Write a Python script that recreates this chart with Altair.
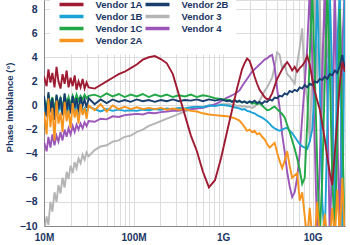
import altair as alt
import pandas as pd

# Frequencies in MHz
F_LOW = [10.0, 10.7, 11.2, 11.8, 12.4, 13.1, 13.8, 14.5, 15.3, 16.1, 17.0, 17.9,
         18.8, 19.8, 20.9, 22.0, 23.1, 24.3, 25.6, 27.0, 28.4, 29.9, 31.5]
F_MID = [36.8, 42.9, 50.1, 58.5, 68.3, 79.7, 93.0, 108.6, 126.8, 148, 172.8, 201.7,
         235.4, 274.8, 320.7, 374.4, 437.1, 510.2, 595.6, 695.2, 811.5, 947.3, 1106]
F_HIGH = [1195, 1258, 1342, 1431, 1526, 1628, 1736, 1852, 1975, 2107, 2247, 2397,
          2556, 2727, 2908, 3102, 3308, 3529, 3764, 4015, 4282, 4567, 4872, 5196,
          5542, 5912, 6305, 6726, 7174, 7652, 8162, 8706, 9286, 9904, 10560, 11260,
          12010, 12810, 13670, 14580, 15550, 16580, 17690, 18870, 20120, 21460, 22890]
FREQ = F_LOW + F_MID + F_HIGH

V1A = ([2.4, 1.6, 3.0, 1.9, 2.7, 1.5, 3.2, 2.0, 1.4, 2.6, 1.8, 2.9, 1.5, 2.3, 1.6, 2.5,
        1.3, 2.0, 1.5, 2.2, 1.4, 1.9, 1.5]
       + [1.4, 1.7, 2.0, 2.3, 2.6, 2.8, 3.1, 3.4, 3.8, 4.0, 4.1, 3.85, 3.5, 2.6, 0.9,
          -0.8, -2.5, -3.8, -5.5, -6.8, -6.2, -4.4, -2.2]
       + [-1.1, -0.4, 0.5, 1.4, 2.2, 3.0, 3.5, 3.9, 3.7, 3.1, 2.4, 1.8, 1.3, 1.0, 0.7,
          0.5, 0.6, 1.0, 1.6, 2.2, 2.6, 3.0, 3.3, 3.6, 3.3, 2.9, 3.2, 2.8, 3.1, 3.3,
          3.6, 4.1, 3.4, 2.2, 1.2, 0.4, -0.3, -1.5, -2.8, -4.3, -5.6, -6.6, -4.0,
          -1.2, 1.8, 3.6, 2.8])
V1B = ([-0.2, -0.9, 0.3, -0.6, 0.1, -1.0, 0.2, -0.5, 0.0, -0.8, 0.2, -0.6, -0.1, -0.7,
        0.1, -0.5, -0.1, -0.6, 0.0, -0.4, -0.2, -0.5, -0.1]
       + [-0.3, -0.5, -0.3, -0.45, -0.35, -0.45, -0.4, -0.45, -0.35, -0.4, -0.3, -0.35,
          -0.25, -0.3, -0.2, -0.25, -0.15, -0.1, -0.15, 0.0, -0.05, 0.05, 0.0]
       + [-0.05, -0.1, -0.15, -0.2, -0.25, -0.35, -0.3, -0.45, -0.5, -0.6, -0.65, -0.8,
          -0.9, -1.0, -1.15, -1.3, -1.5, -1.75, -1.9, -2.0, -2.1, -2.0, -1.9, -1.85,
          -2.1, -2.3, -2.6, -2.9, -3.2, -3.4, -3.5, -3.6, -3.0, -2.0, 1.5, 9.5, 2.0,
          -8.0, -11, -2.0, 9.5, 2.0, -9.0, 5.0, 9.5, -11, 9.5])
V1C = ([0.6, -0.3, 0.9, 0.0, 0.7, -0.4, 0.8, 0.1, 0.6, -0.2, 0.9, 0.2, 0.7, 0.0, 0.8,
        0.3, 0.9, 0.4, 0.8, 0.5, 0.9, 0.6, 0.8]
       + [0.9, 0.7, 1.0, 0.75, 0.95, 0.7, 0.9, 0.75, 0.95, 0.7, 0.9, 0.75, 0.9, 0.7,
          0.85, 0.75, 0.9, 0.7, 0.85, 0.75, 0.6, 0.55, 0.45]
       + [0.45, 0.3, 0.4, 0.3, 0.35, 0.25, 0.3, 0.2, 0.3, 0.15, 0.2, 0.1, 0.2, 0.0,
          -0.2, -0.4, -0.35, -0.2, -0.1, -0.3, -0.5, -0.7, -1.0, -1.6, -2.2, -2.9,
          -3.6, -4.4, -5.3, -6.5, -6.0, -1.5, 4.0, 9.5, 3.0, -5.0, -11, -6.0, 2.0, 9.5,
          3.0, -6.0, -11, -3.0, 8.0, -2.0, -11])
V2A = ([-0.5, -2.4, 0.6, -1.8, -0.2, -2.9, 0.4, -1.5, -0.6, -2.2, 0.3, -1.3, -0.4,
        -1.9, 0.2, -1.0, -0.3, -1.5, 0.1, -0.8, -0.2, -1.1, 0.0]
       + [-0.4, 0.1, -0.5, 0.0, -0.3, -0.1, -0.3, -0.15, -0.3, -0.2, -0.3, -0.2, -0.35,
          -0.25, -0.35, -0.3, -0.45, -0.5, -0.65, -0.75, -0.8, -0.85, -0.9]
       + [-0.95, -1.0, -1.05, -1.15, -1.25, -1.5, -1.8, -2.1, -2.0, -2.2, -2.1, -2.4,
          -2.3, -2.6, -2.8, -3.2, -3.5, -3.3, -3.1, -3.9, -4.6, -5.2, -4.6, -3.8, -5.0,
          -6.0, -5.8, -5.6, -7.9, -7.2, -9.2, -11, -8.5, -11, -11, -8.0, -11, -11,
          -9.0, -11, -11, -8.5, -11, -7.0, -11, -6.0, -11])
V2B = ([0.8, -0.9, 1.1, -0.5, 0.6, -1.2, 0.9, -0.3, 0.7, -0.8, 1.0, -0.4, 0.5, -0.6,
        0.8, -0.2, 0.6, -0.5, 0.7, 0.0, 0.5, -0.2, 0.6]
       + [0.1, 0.5, 0.2, 0.5, 0.3, 0.45, 0.3, 0.5, 0.35, 0.45, 0.3, 0.45, 0.35, 0.5,
          0.35, 0.45, 0.4, 0.5, 0.35, 0.5, 0.4, 0.5, 0.35]
       + [0.4, 0.3, 0.45, 0.3, 0.4, 0.25, 0.35, 0.2, 0.35, 0.25, 0.4, 0.2, 0.3, 0.15,
          0.35, 0.3, 0.5, 0.4, 0.65, 0.6, 0.8, 0.75, 1.0, 0.9, 1.2, 1.1, 1.3, 1.2, 1.5,
          1.4, 1.7, 1.5, 1.8, 1.7, 2.0, 1.9, 2.2, 2.1, 2.4, 2.2, 2.6, 2.5, 2.9, 2.7,
          3.3, 4.2, 3.0])
V3 = ([-10.5, -9.2, -9.9, -8.0, -8.8, -7.2, -8.0, -6.6, -7.3, -6.0, -6.8, -5.5, -6.1,
       -5.0, -5.6, -4.7, -5.2, -4.4, -4.8, -4.1, -4.5, -3.9, -4.2]
      + [-3.7, -3.4, -3.3, -3.0, -2.9, -2.6, -2.5, -2.2, -2.0, -1.7, -1.5, -1.3, -1.1,
         -0.9, -0.7, -0.5, -0.35, -0.2, -0.1, 0.0, 0.05, 0.1, 0.1]
      + [0.1, 0.0, 0.05, -0.05, 0.0, -0.1, -0.05, -0.15, -0.1, -0.2, -0.1, 0.1, 0.4,
         0.8, 1.2, 1.5, 1.9, 2.3, 3.2, 4.4, 4.2, 3.1, 3.4, 2.6, 2.4, 2.1, 1.8, 3.5, 4.8,
         6.4, 2.0, 0.5, -3.0, 3.0, 9.5, 2.0, 9.5, -2.0, 9.5, 4.0, 9.5, -1.0, 9.5, 3.0,
         9.5, 0.0, 9.5])
V4 = ([-3.0, -3.8, -2.6, -3.5, -2.4, -3.3, -2.5, -3.0, -2.2, -2.9, -2.0, -2.6, -1.9,
       -2.4, -1.7, -2.2, -1.6, -2.0, -1.5, -1.9, -1.4, -1.7, -1.3]
      + [-1.35, -1.1, -1.15, -0.9, -0.95, -0.8, -0.75, -0.7, -0.75, -0.6, -0.65, -0.55,
         -0.5, -0.45, -0.45, -0.35, -0.3, -0.25, -0.2, -0.05, 0.1, 0.35, 0.65]
      + [0.75, 0.85, 0.95, 1.1, 1.25, 1.6, 1.9, 2.2, 2.5, 2.8, 3.0, 3.2, 3.4, 3.6, 3.8,
         3.9, 4.1, 4.2, 3.2, 1.4, -0.2, -2.4, -3.8, -5.5, -6.7, -7.6, -7.2, -6.0, -4.0,
         -1.0, 1.8, 4.8, 9.5, 4.0, -3.0, -11, -5.0, 3.0, 9.5, 1.0, -11, -4.0, 9.5,
         -2.0, -11, 5.0, 9.5])

# legend order (row-major fill of a 2-column legend gives the reference's columns)
LEGEND_ORDER = ["Vendor 1A", "Vendor 2B", "Vendor 1B", "Vendor 3",
                "Vendor 1C", "Vendor 4", "Vendor 2A"]
LEGEND_COLORS = ["#9e1b32", "#173e6d", "#1ba3d6", "#b4b4b4",
                 "#22a846", "#9b56b8", "#f7941e"]
VALUES = {"Vendor 1A": V1A, "Vendor 1B": V1B, "Vendor 1C": V1C, "Vendor 2A": V2A,
          "Vendor 2B": V2B, "Vendor 3": V3, "Vendor 4": V4}
DRAW_ORDER = ["Vendor 3", "Vendor 4", "Vendor 1B", "Vendor 1C",
              "Vendor 2B", "Vendor 2A", "Vendor 1A"]

X_GRID = [10, 20, 30, 40, 50, 60, 70, 80, 90,
          100, 200, 300, 400, 500, 600, 700, 800, 900,
          1000, 2000, 3000, 4000, 5000, 6000, 7000, 8000, 9000,
          10000, 20000]
Y_TICKS = [-10, -8, -6, -4, -2, 0, 2, 4, 6, 8]

rows = []
for name in DRAW_ORDER:
    for i, (f, v) in enumerate(zip(FREQ, VALUES[name])):
        rows.append({"series": name, "freq": f, "phase": v, "idx": i})
df = pd.DataFrame(rows)

NAVY = "#1b3563"
FONT = "Liberation Sans"

chart = alt.Chart(df).mark_line(strokeWidth=1.9, clip=True).encode(
    x=alt.X("freq:Q",
            scale=alt.Scale(type="log", domain=[10, 23000], nice=False),
            axis=alt.Axis(values=X_GRID, title=None, ticks=False, labelPadding=6,
                          labelFlush=False, labelOverlap=False,
                          labelFont=FONT, labelFontSize=10, labelFontWeight="bold",
                          labelColor=NAVY,
                          labelExpr="datum.value == 10 ? '10M' : datum.value == 100 ? '100M' : datum.value == 1000 ? '1G' : datum.value == 10000 ? '10G' : ''")),
    y=alt.Y("phase:Q",
            scale=alt.Scale(domain=[-10, 8.75], nice=False, zero=False),
            axis=alt.Axis(values=Y_TICKS, title="Phase Imbalance (°)", ticks=False,
                          labelPadding=7, labelFont=FONT, labelFontSize=10.5,
                          labelFontWeight="bold", labelColor=NAVY,
                          titleFont=FONT, titleFontSize=9.5, titleFontWeight="bold",
                          titleColor=NAVY, titleX=-32, titleY=107,
                          titleBaseline="alphabetic", titleAlign="center",
                          titleAngle=270)),
    color=alt.Color("series:N",
                    scale=alt.Scale(domain=LEGEND_ORDER, range=LEGEND_COLORS),
                    legend=alt.Legend(title=None, orient="none", legendX=6, legendY=-7.5,
                                      direction="horizontal", columns=2,
                                      fillColor="white", padding=7,
                                      symbolType="M-4,0L4,0", symbolSize=36,
                                      symbolStrokeWidth=3.5, symbolOffset=9.5,
                                      labelOffset=19, rowPadding=-2.5, columnPadding=-8,
                                      labelFont=FONT, labelFontSize=9.5,
                                      labelFontWeight="bold", labelColor=NAVY,
                                      labelLimit=0)),
    order="idx:Q",
).properties(
    width=301, height=226,
    padding={"left": 44, "top": 0, "right": 5, "bottom": 19},
    autosize="none",
).configure_view(stroke=None).configure_axis(
    grid=True, gridColor="#c9d6e3", gridWidth=1.5,
    domainColor="#1d4a7e", domainWidth=2,
).configure(background="white")

chart.save("out.html", embed_options={"renderer": "svg", "actions": False})
